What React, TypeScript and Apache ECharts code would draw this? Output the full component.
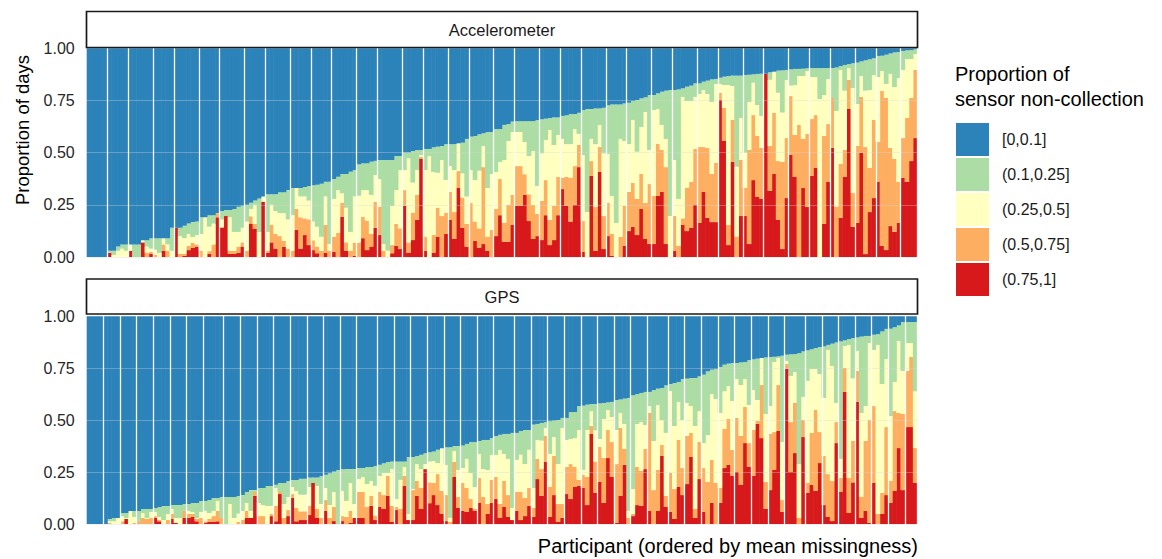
import React, { useEffect, useRef } from "react";
import * as echarts from "echarts";

const FONT = '"Liberation Sans", Arial, Helvetica, sans-serif';

const categoryLabels = ["[0,0.1]", "(0.1,0.25]", "(0.25,0.5]", "(0.5,0.75]", "(0.75,1]"];
const categoryColors = ["#2B83BA", "#ABDDA4", "#FFFFBF", "#FDAE61", "#D7191C"];
const panelNames = ["Accelerometer", "GPS"];
const yTicks = [0, 0.25, 0.5, 0.75, 1];

// Accelerometer: share of days whose non-collection exceeds each threshold
const accOver75 = [
  0, 0, 0, 0, 0, .02, 0, 0, 0, 0,
  .03, 0, 0, .07, 0, .015, 0, 0, .03, 0,
  0, .14, 0, .005, .033, .043, .048, 0, 0, .015,
  0, .19, .14, .196, .015, .015, .02, .05, 0, .16,
  .134, 0, .265, .02, .07, .04, 0, .048, 0, 0,
  .13, .04, .105, .057, .033, .018, 0, .02, 0, .024,
  0, .193, .03, 0, .005, 0, .09, .033, .05, .14,
  .105, 0, 0, .018, .053, .038, .244, .02, .081, .177,
  .469, .03, 0, .02, .097, 0, .11, .177, .086, .33,
  .14, .049, 0, .077, .045, .062, .03, 0, .1, .2,
  .073, .073, .153, .244, .244, .297, .172, .086, .1, .081,
  .2, .057, .081, .2, .325, .244, .169, .249, .43, .024,
  0, .388, .029, .407, .038, .1, .005, 0, 0, .053,
  .124, .144, .105, .23, .086, .062, .062, .292, .311, .062,
  0, .029, 0, .153, .124, .139, .249, .163, .311, .187,
  .167, .167, .751, .555, .057, .455, 0, .196, .196, .062,
  .368, .287, .278, .877, .316, .397, .177, .038, .282, .488,
  .383, 0, .33, .239, .388, .426, 0, .158, .359, .522,
  0, .187, .383, .708, .144, .163, .498, .014, .215, .282,
  .359, .053, .033, .148, .12, .163, .378, .359, .459, .569,
];
const accOver50 = [
  0, 0, 0, 0, 0, .02, 0, 0, 0, 0,
  .03, 0, 0, .07, .02, .025, .01, 0, .06, .03,
  0, .14, .015, .015, .053, .067, .06, .03, 0, .028,
  .06, .21, .144, .196, .03, .03, .05, .07, .03, .195,
  .158, 0, .265, .03, .155, .11, .1, .077, .04, .03,
  .23, .19, .185, .18, .08, .05, .03, .153, .029, .097,
  .116, .26, .07, .029, .069, .069, .193, .174, .11, .263,
  .24, .029, 0, .057, .158, .137, .32, .069, .212, .297,
  .48, .097, 0, .105, .236, .196, .212, .311, .215, .411,
  .284, .158, .258, .169, .137, .43, .097, .129, .23, .373,
  .164, .25, .297, .435, .435, .396, .3, .249, .206, .268,
  .368, .177, .244, .384, .38, .384, .38, .435, .536, .172,
  0, .459, .239, .526, .196, .26, .11, 0, .096, .244,
  .311, .354, .278, .397, .258, .349, .292, .541, .512, .43,
  0, .196, .053, .185, .332, .359, .517, .526, .526, .522,
  .397, .45, .785, .713, .153, .656, .097, .464, .33, .512,
  .679, .579, .522, .877, .531, .689, .459, .455, .569, .77,
  .584, .632, .565, .589, .66, .679, 0, .579, .636, .761,
  .241, .445, .512, .847, .306, .531, .766, .526, .426, .656,
  .55, .794, .761, .522, .469, .359, .569, .665, .761, .895,
];
const accOver25 = [
  0, 0, 0, 0, 0, .02, .01, .03, .04, .03,
  .06, 0, 0, .08, .05, .04, .035, .02, .09, .06,
  .03, .14, .1, .09, .11, .096, .105, .11, .19, .145,
  .16, .21, .18, .196, .19, .12, .12, .14, .17, .23,
  .25, .12, .29, .12, .25, .22, .21, .21, .18, .2,
  .33, .29, .29, .27, .17, .145, .097, .29, .062, .278,
  .32, .305, .236, .12, .29, .293, .32, .32, .297, .392,
  .373, .062, .03, .244, .32, .416, .416, .472, .356, .416,
  .488, .416, .483, .407, .403, .464, .368, .435, .416, .544,
  .4, .289, .416, .368, .413, .531, .33, .397, .407, .455,
  .464, .555, .598, .598, .598, .55, .483, .507, .34, .496,
  .56, .608, .536, .584, .565, .54, .54, .612, .589, .488,
  .215, .565, .54, .632, .496, .493, .292, .163, .565, .555,
  .54, .656, .504, .622, .694, .512, .703, .708, .632, .565,
  .196, .464, .278, .766, .746, .746, .766, .78, .799, .78,
  .742, .828, .828, .823, .823, .818, .432, .665, .499, .742,
  .834, .727, .675, .877, .848, .885, .786, .691, .847, .82,
  .823, .866, .866, .89, .861, .861, .756, .775, .852, .761,
  .699, .895, .796, .904, .809, .732, .866, .796, .799, .871,
  .861, .89, .828, .876, .813, .856, .895, .947, .947, .971,
];
const accOver10 = [
  0, 0, 0, 0, 0, .03, .03, .05, .06, .06,
  .06, .06, .06, .08, .08, .09, .09, .09, .09, .09,
  .14, .14, .14, .15, .16, .167, .17, .19, .19, .2,
  .2, .21, .22, .225, .225, .23, .24, .245, .25, .26,
  .27, .28, .29, .3, .3, .3, .31, .31, .32, .33,
  .33, .33, .335, .34, .343, .346, .35, .36, .36, .373,
  .384, .397, .397, .408, .416, .443, .448, .448, .456, .46,
  .464, .464, .464, .464, .483, .483, .5, .5, .507, .512,
  .512, .517, .517, .525, .528, .531, .54, .54, .54, .544,
  .547, .565, .576, .579, .587, .592, .598, .598, .612, .612,
  .632, .636, .648, .65, .65, .65, .65, .65, .655, .659,
  .662, .665, .668, .668, .675, .678, .684, .684, .69, .703,
  .708, .708, .711, .711, .714, .726, .73, .73, .73, .735,
  .738, .746, .751, .759, .764, .775, .775, .783, .791, .796,
  .799, .799, .802, .807, .815, .82, .831, .831, .839, .844,
  .85, .852, .858, .863, .866, .868, .868, .868, .871, .872,
  .874, .876, .877, .877, .884, .887, .892, .893, .895, .898,
  .9, .9, .901, .903, .904, .904, .904, .904, .904, .904,
  .907, .914, .919, .923, .927, .93, .936, .941, .946, .951,
  .962, .963, .968, .974, .979, .981, .986, .989, .99, .994,
];

// GPS: share of days whose non-collection exceeds each threshold
const gpsOver75 = [
  0, 0, 0, 0, 0, 0, 0, 0, 0, .024,
  0, 0, 0, 0, 0, 0, .029, .013, 0, 0,
  .024, .005, 0, .029, .029, .034, .013, 0, .005, .01,
  .01, .013, 0, 0, 0, 0, 0, 0, .029, .029,
  .135, 0, 0, 0, .038, .013, .144, 0, .038, .125,
  .013, .019, .019, .043, .197, .029, 0, .063, 0, .014,
  0, .014, 0, .005, .029, .029, .029, 0, .087, .019,
  .082, .072, .135, .01, .067, 0, .183, .019, .019, .135,
  .072, .264, .1, .139, .091, .05, .014, 0, .226, .077,
  .063, .058, .077, .063, .101, 0, .048, .101, .12, .029,
  .082, .034, .019, .063, .019, .038, .087, .034, .216, .135,
  .298, .034, .139, .01, .029, .144, .12, .178, .183, .173,
  .091, .433, .15, .202, .101, .317, .226, .005, .135, .284,
  0, .038, .091, .087, .264, .063, 0, .063, .327, .082,
  .058, .024, .178, .139, .192, .322, .029, .216, .058, 0,
  .101, 0, .101, .269, .284, .231, .25, .188, .389, .274,
  .231, .481, .413, .072, .163, .26, .447, .058, .745, .25,
  .341, 0, .418, .149, .188, .16, .293, .091, .034, .014,
  .389, .154, .635, .053, .2, .587, .029, .063, .005, .197,
  0, .048, .139, .101, .159, .365, .163, .466, .466, .197,
];
const gpsOver50 = [
  0, 0, 0, 0, 0, .005, 0, 0, .013, .024,
  0, .005, .013, .029, .024, .029, .038, .019, 0, .019,
  .048, .005, 0, .063, .048, .048, .024, .029, .013, .024,
  .038, .063, .029, 0, 0, 0, .01, .019, .063, .029,
  .154, .038, .038, 0, .048, .087, .154, .029, .067, .144,
  .077, .061, .061, .087, .197, .072, .029, .115, .029, .082,
  0, .038, .034, .063, .029, .154, .154, .082, .135, .04,
  .154, .139, .231, .087, .082, .072, .231, .019, .163, .207,
  .173, .264, .2, .197, .24, .159, .139, .01, .298, .13,
  .197, .173, .12, .072, .221, .13, .096, .212, .226, .096,
  .207, .139, .019, .154, .154, .125, .173, .077, .313, .264,
  .423, .178, .327, .096, .096, .274, .288, .274, .212, .237,
  .226, .471, .3, .37, .317, .452, .394, .288, .462, .361,
  .029, .048, .274, .255, .361, .534, .163, .26, .38, .135,
  .245, .168, .404, .269, .423, .438, .072, .394, .269, .202,
  .308, .197, .173, .457, .505, .356, .51, .423, .563, .389,
  .452, .495, .668, .202, .433, .442, .668, .115, .769, .49,
  .582, .029, .5, .197, .438, .548, .442, .327, .24, .207,
  .49, .221, .75, .221, .4, .736, .13, .399, .5, .567,
  .048, .149, .466, .207, .543, .534, .529, .736, .803, .365,
];
const gpsOver25 = [
  0, 0, 0, 0, 0, .013, .013, .029, .038, .029,
  .063, .034, .013, .053, .029, .058, .058, .034, .019, .048,
  .072, .029, .029, .063, .063, .058, .029, .058, .063, .053,
  .063, .111, .029, 0, .096, .029, .05, .063, .101, .063,
  .154, .101, .091, .087, .087, .173, .154, .096, .13, .178,
  .159, .141, .141, .178, .197, .183, .096, .173, .091, .154,
  0, .159, .111, .197, .096, .216, .226, .192, .207, .184,
  .231, .245, .245, .264, .12, .212, .274, .048, .168, .288,
  .264, .288, .3, .303, .293, .361, .284, .03, .351, .26,
  .269, .313, .245, .178, .337, .264, .26, .332, .332, .356,
  .337, .313, .077, .308, .333, .288, .357, .173, .404, .401,
  .462, .337, .418, .288, .462, .404, .409, .413, .452, .26,
  .452, .542, .45, .409, .505, .548, .514, .452, .534, .481,
  .063, .168, .481, .49, .476, .567, .399, .572, .5, .438,
  .639, .471, .587, .5, .582, .567, .471, .543, .389, .428,
  .625, .601, .534, .638, .663, .591, .697, .668, .697, .572,
  .644, .596, .798, .529, .567, .779, .798, .394, .784, .712,
  .731, .288, .611, .688, .745, .745, .721, .606, .837, .76,
  .582, .313, .856, .861, .7, .832, .534, .567, .87, .837,
  .861, .673, .793, .519, .683, .88, .736, .87, .87, .638,
];
const gpsOver10 = [
  0, 0, 0, 0, 0, .024, .029, .029, .053, .053,
  .063, .063, .063, .072, .072, .072, .077, .082, .087, .087,
  .091, .091, .091, .096, .096, .101, .101, .111, .111, .115,
  .125, .125, .13, .13, .13, .13, .135, .139, .154, .163,
  .163, .173, .173, .183, .183, .189, .197, .197, .207, .212,
  .212, .218, .218, .224, .224, .224, .229, .237, .244, .253,
  .26, .263, .264, .264, .264, .269, .269, .274, .274, .279,
  .285, .292, .298, .301, .301, .301, .301, .322, .322, .327,
  .333, .34, .345, .349, .357, .365, .369, .369, .375, .375,
  .378, .385, .394, .394, .399, .404, .404, .413, .423, .429,
  .433, .433, .438, .438, .447, .452, .452, .478, .481, .486,
  .49, .494, .497, .5, .51, .51, .538, .538, .567, .569,
  .574, .577, .577, .58, .582, .585, .587, .596, .599, .603,
  .606, .619, .625, .63, .635, .635, .644, .651, .654, .667,
  .673, .678, .683, .697, .699, .702, .702, .71, .718, .734,
  .742, .745, .755, .766, .771, .774, .774, .777, .779, .788,
  .792, .795, .798, .801, .803, .804, .806, .809, .814, .816,
  .817, .821, .83, .835, .84, .846, .851, .854, .861, .867,
  .873, .878, .883, .889, .894, .897, .901, .904, .904, .91,
  .913, .926, .938, .939, .946, .955, .971, .971, .971, .971,
];

const participants = accOver10.map((_, i) => `P${i + 1}`);

// turn cumulative shares into stacked segment heights: [red, orange, yellow, green, blue]
function toSegments(o75: number[], o50: number[], o25: number[], o10: number[]) {
  const d = (a: number, b: number) => Math.max(0, +(a - b).toFixed(4));
  return [
    o75.map((v) => v),
    o50.map((v, i) => d(v, o75[i])),
    o25.map((v, i) => d(v, o50[i])),
    o10.map((v, i) => d(v, o25[i])),
    o10.map((v) => d(1, v)),
  ];
}

const panels = [
  toSegments(accOver75, accOver50, accOver25, accOver10),
  toSegments(gpsOver75, gpsOver50, gpsOver25, gpsOver10),
];

// visible white seam lines (rendering artefact in the reference)
const accSeam = (i: number) => {
  const k = Math.round((i - 4.85) / 5.457);
  return k >= 0 && k <= 35 && Math.round(4.85 + k * 5.457) === i;
};
const gpsSeam = (i: number) => {
  const k = Math.round((i - 3.75) / 4.116);
  return k >= 0 && k <= 47 && Math.round(3.75 + k * 4.116) === i;
};

const GRID_LEFT = 86.7;
const GRID_WIDTH = 830.6;
const grids = [
  { left: GRID_LEFT, top: 48, width: GRID_WIDTH, height: 209 },
  { left: GRID_LEFT, top: 316, width: GRID_WIDTH, height: 208 },
];

function buildOption() {
  const series: any[] = [];
  panels.forEach((segs, p) => {
    for (let s = 0; s < 5; s++) {
      const catIdx = 4 - s; // red first (bottom) ... blue last (top)
      const color = categoryColors[catIdx];
      series.push({
        type: "bar",
        name: categoryLabels[catIdx],
        xAxisIndex: p,
        yAxisIndex: p,
        stack: "panel" + p,
        data: segs[s],
        barWidth: "114%",
        barGap: "0%",
        itemStyle: { color },
        emphasis: { disabled: true },
        silent: true,
      });
    }
  });

  const graphic: any[] = [];
  const strips = [
    { y: 11.5, h: 36 },
    { y: 279, h: 35 },
  ];
  strips.forEach((s, i) => {
    graphic.push({
      type: "rect",
      z: 20,
      shape: { x: 86.5, y: s.y, width: 831, height: s.h },
      style: { fill: "#ffffff", stroke: "#1a1a1a", lineWidth: 1.7 },
    });
    graphic.push({
      type: "text",
      z: 21,
      x: 502,
      y: s.y + s.h / 2,
      style: {
        text: panelNames[i],
        fill: "#1a1a1a",
        fontSize: 16.5,
        fontFamily: FONT,
        align: "center",
        verticalAlign: "middle",
      },
    });
  });
  graphic.push({
    type: "text",
    z: 21,
    x: 22.5,
    y: 130,
    rotation: Math.PI / 2,
    style: {
      text: "Proportion of days",
      fill: "#000000",
      fontSize: 18.5,
      fontFamily: FONT,
      align: "center",
      verticalAlign: "middle",
    },
  });
  graphic.push({
    type: "text",
    z: 21,
    x: 918,
    y: 546,
    style: {
      text: "Participant (ordered by mean missingness)",
      fill: "#000000",
      fontSize: 20,
      fontFamily: FONT,
      align: "right",
      verticalAlign: "middle",
    },
  });
  graphic.push({
    type: "text",
    z: 21,
    x: 955,
    y: 62,
    style: {
      text: "Proportion of\nsensor non-collection",
      fill: "#000000",
      fontSize: 20,
      lineHeight: 24.5,
      fontFamily: FONT,
      align: "left",
      verticalAlign: "top",
    },
  });

  return {
    animation: false,
    backgroundColor: "#ffffff",
    grid: grids,
    legend: {
      data: categoryLabels,
      orient: "vertical",
      left: 956,
      top: 123,
      padding: 0,
      itemWidth: 33,
      itemHeight: 33,
      itemGap: 2,
      icon: "rect",
      selectedMode: false,
      itemStyle: { borderWidth: 0 },
      textStyle: { fontSize: 16, fontFamily: FONT, color: "#1a1a1a", padding: [0, 0, 0, 8] },
    },
    xAxis: [0, 1].map((i) => ({
      type: "category",
      gridIndex: i,
      data: participants,
      boundaryGap: true,
      z: 6,
      axisLine: { show: false },
      axisTick: { show: false },
      axisLabel: { show: false },
      splitLine: {
        show: true,
        interval: i === 0 ? accSeam : gpsSeam,
        lineStyle: { color: "#ffffff", width: 1.3 },
      },
    })),
    yAxis: [0, 1].map((i) => ({
      type: "value",
      gridIndex: i,
      min: yTicks[0],
      max: yTicks[yTicks.length - 1],
      interval: 0.25,
      z: 5,
      axisLine: { show: false },
      axisTick: { show: false },
      axisLabel: {
        formatter: (v: number) => v.toFixed(2),
        fontSize: 16,
        fontFamily: FONT,
        color: "#262626",
        margin: 12,
      },
      splitLine: { show: true, lineStyle: { color: "rgba(215,215,215,0.35)", width: 1 } },
    })),
    series,
    graphic,
  };
}

export default function App() {
  const ref = useRef<HTMLDivElement>(null);
  useEffect(() => {
    if (!ref.current) return;
    const chart = echarts.init(ref.current, null, { renderer: "svg" });
    chart.setOption(buildOption());
    return () => chart.dispose();
  }, []);
  return (
    <div
      ref={ref}
      style={{ position: "fixed", left: 0, top: 0, width: 1162, height: 559, background: "#ffffff" }}
    />
  );
}
